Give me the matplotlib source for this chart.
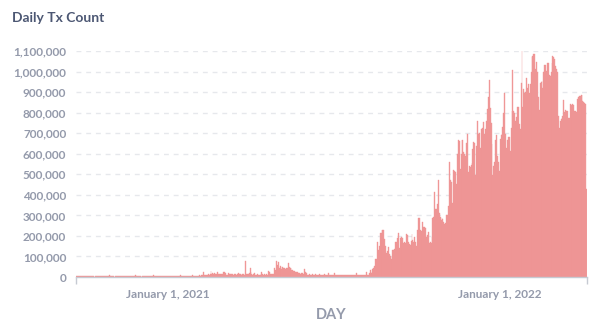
import numpy as np
import pandas as pd
import matplotlib
matplotlib.use("Agg")
import matplotlib.pyplot as plt
import matplotlib.dates as mdates
from matplotlib.ticker import FuncFormatter, FixedLocator

# ---- data (daily transaction counts, in thousands) ----
start_date = "2020-09-22"
tx_k = [
    # Sep 22 2020 - early Feb 2021
    5,6,5,7,6,5,4,6,7,5, 6,5,6,4,5,7,6,5,6,5, 1,5,6,7,5,6,5,4,6,5,
    6,7,5,6,5,6,8,6,5,4, 5,6,1,5,6,7,6,5,6,7, 6,5,7,6,5,6,5,4,5,6,
    7,6,5,6,7,8,6,5,6,7, 5,6,1,6,5,7,6,5,6,5, 6,7,6,5,6,8,7,6,5,6,
    7,6,5,6,7,6,5,7,6,5, 6,5,7,6,5,6,7,6,5,6, 7,6,5,6,8,7,6,5,6,7,
    6,5,7,6,5,6,7,6,8,7, 6,7,5,6,7,8,6,7,9,8,
    # d140 -
    23,10,12,10,11,13,10,14,29,17, 18,16,18,15,13,23,16,15,16,17,
    15,14,22,23,21,10,12,18,14,13, 12,14,13,12,13,14,12,15,20,13,
    14,13,12,14,13,12,79,15,14,16, 20,45,23,14,12,13,18,12,11,13,
    12,11,12,14,23,13,12,13,11,14, 12,29,23,16,15,16,14,17,42,35,
    78,58,71,45,55,48,39,50,42,45, 39,42,44,68,50,42,45,34,32,29,
    27,26,24,23,20,18,15,13,18,18, 16,39,25,18,12,11,13,12,11,12,
    14,12,11,13,12,11,12,13,12,11, 12,11,12,13,12,11,12,18,12,10,
    10,11,10,9,18,9,10,8,9,10, 9,8,10,9,8,9,10,9,8,9,
    10,9,8,9,10,9,8,9,18,9, 10,9,10,11,10,9,10,11,12,23,
    10,12,20,34,18,22,40,45,55,
    # d330 - (ramp up, Aug 2021 onward)
    87,90,170,130,150,215,215,230,230,230,
    185,150,118,125,147,110,100,88,95,132,
    130,135,170,170,190,215,140,190,195,185,
    190,165,170,165,210,205,170,160,155,175,
    210,180,170,195,170,150,230,285,285,228,
    225,215,268,245,245,240,195,205,220,165,
    170,165,193,285,290,415,330,330,357,470,
    310,290,277,285,280,270,260,265,300,300,
    345,560,470,460,357,360,520,515,510,455,
    600,665,660,527,600,668,665,607,600,590,
    650,695,510,540,537,545,555,625,655,650,
    495,640,757,695,700,630,720,720,725,755,
    695,720,760,820,877,960,825,750,647,495,
    540,560,665,693,590,560,515,673,690,695,
    730,800,897,695,630,668,680,680,615,727,
    808,1008,808,800,760,780,828,828,745,720,
    945,1100,828,913,897,900,967,918,940,897,
    940,1000,1070,1075,1083,1083,1010,1045,1000,877,
    815,945,950,953,918,1000,1030,1030,1005,1040,
    1040,985,980,1000,1040,1075,1070,1060,1025,1010,
    1000,785,727,760,770,775,785,860,805,815,
    810,808,775,775,840,835,832,840,835,808,
    808,805,865,877,880,882,887,887,855,850,
    845,840,430,
]
y_ticks = [0, 100000, 200000, 300000, 400000, 500000, 600000,
           700000, 800000, 900000, 1000000, 1100000]
x_tick_dates = ["2021-01-01", "2022-01-01"]
x_tick_labels = ["January 1, 2021", "January 1, 2022"]
title = "Daily Tx Count"
x_label = "DAY"

values = np.array(tx_k, dtype=float) * 1000
dates = pd.date_range(start_date, periods=len(values), freq="D")

# ---- styling ----
W, H = 614, 331
fig = plt.figure(figsize=(W / 100, H / 100), dpi=100)
ax = fig.add_axes([76 / W, 1 - 277 / H, (587 - 76) / W, (277 - 51) / H])

label_color = "#949aab"
font = ["Lato", "DejaVu Sans"]

xnum = mdates.date2num(dates)
ax.bar(xnum, values, width=1.0, color="#F09C9C", edgecolor="#EE9090",
       linewidth=0.25, zorder=2)

ax.set_xlim(xnum[0] - 0.5, xnum[-1] + 0.5)
ax.set_ylim(0, 1100000)

ax.set_yticks(y_ticks)
ax.yaxis.set_major_formatter(FuncFormatter(lambda v, p: f"{int(v):,}"))
ax.grid(axis="y", color="#e6e8ec", linewidth=1, linestyle=(0, (3.5, 3.5)), zorder=0)
ax.set_axisbelow(True)

ax.set_xticks([mdates.date2num(pd.Timestamp(d)) for d in x_tick_dates])
ax.set_xticklabels(x_tick_labels)
ax.xaxis.set_minor_locator(FixedLocator([xnum[0] - 0.5, xnum[-1] + 0.5]))
ax.tick_params(axis="x", which="major", length=0, pad=9)
ax.tick_params(axis="x", which="minor", length=5, color="#c6cad2", width=1)
ax.tick_params(axis="y", length=0, pad=7)

for lab in ax.get_xticklabels() + ax.get_yticklabels():
    lab.set_fontfamily(font)
    lab.set_fontweight("bold")
    lab.set_fontsize(8.5)
    lab.set_color(label_color)

for s in ["top", "right", "left"]:
    ax.spines[s].set_visible(False)
ax.spines["bottom"].set_color("#c6cad2")
ax.spines["bottom"].set_linewidth(1)

fig.text(12 / W, 1 - 18 / H, title, family=font, fontweight="bold",
         fontsize=10, color="#4c5773", ha="left", va="center")
fig.text(331 / W, 1 - 315 / H, x_label, family=font, fontweight="bold",
         fontsize=10.5, color=label_color, ha="center", va="center")

fig.savefig("out.png", dpi=100)
